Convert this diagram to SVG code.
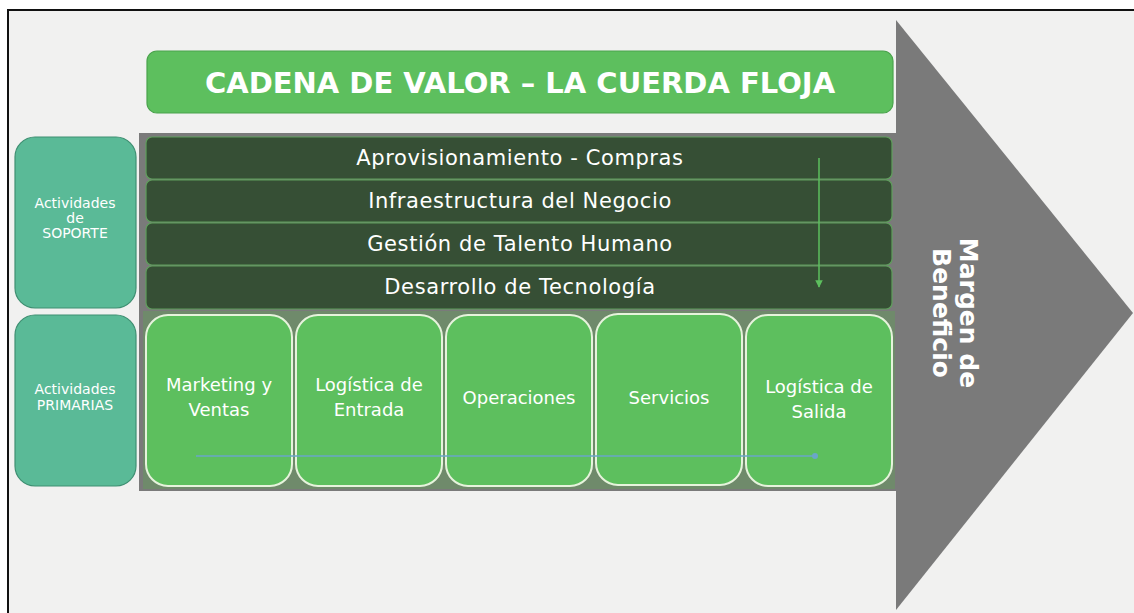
<svg xmlns="http://www.w3.org/2000/svg" width="1134" height="613" viewBox="0 0 1134 613">
<style>
.sup{fill:#364f35;stroke:#5f9e5c;stroke-width:1.2}
.pri{fill:#5dbf5e;stroke:#e6f3dc;stroke-width:2}
.side{fill:#5aba97;stroke:#3f8f72;stroke-width:1.2}
.t{font-family:"DejaVu Sans",Verdana,sans-serif;fill:#ffffff;text-anchor:middle}
.bar{font-size:21px;letter-spacing:0.6px}
.p{font-size:18px}
.s{font-size:14px}
</style>
<defs>
<marker id="ah" viewBox="0 0 10 10" refX="9" refY="5" markerWidth="5" markerHeight="5" orient="auto"><path d="M0,0 L10,5 L0,10 z" fill="#5dbf5e"/></marker>
<marker id="dot" viewBox="0 0 10 10" refX="5" refY="5" markerWidth="4" markerHeight="4"><circle cx="5" cy="5" r="5" fill="#6aa6c8"/></marker>
</defs>
<rect x="0" y="0" width="1134" height="613" fill="#ffffff"/>
<rect x="8" y="10" width="1130" height="610" fill="#f1f1f0" stroke="#111" stroke-width="2"/>
<polygon points="896,20 1133,313 896,610" fill="#7a7a7a"/>
<rect x="139" y="133" width="757" height="358" fill="#7a7a7a"/>
<rect x="143" y="311" width="752" height="178" fill="#6f8a6b"/>
<g id="title"><rect x="147" y="51" width="746" height="62" rx="10" fill="#5dbf5e" stroke="#4aa34c" stroke-width="1.2"/><text class="t" x="520" y="93" font-size="29" font-weight="bold">CADENA DE VALOR – LA CUERDA FLOJA</text></g>
<g id="soporte"><rect class="side" x="15" y="137" width="121" height="171" rx="20"/><text class="t s" x="75" y="208">Actividades</text><text class="t s" x="75" y="223">de</text><text class="t s" x="75" y="238">SOPORTE</text></g>
<g id="primarias"><rect class="side" x="15" y="315" width="121" height="171" rx="20"/><text class="t s" x="75" y="394">Actividades</text><text class="t s" x="75" y="410">PRIMARIAS</text></g>
<g id="aprov"><rect class="sup" x="146" y="137" width="746" height="42" rx="6"/><text class="t bar" x="520" y="165">Aprovisionamiento - Compras</text></g>
<g id="infra"><rect class="sup" x="146" y="180" width="746" height="42" rx="6"/><text class="t bar" x="520" y="208">Infraestructura del Negocio</text></g>
<g id="talento"><rect class="sup" x="146" y="223" width="746" height="42" rx="6"/><text class="t bar" x="520" y="251">Gestión de Talento Humano</text></g>
<g id="tecno"><rect class="sup" x="146" y="266" width="746" height="43" rx="6"/><text class="t bar" x="520" y="294">Desarrollo de Tecnología</text></g>
<g id="marketing"><rect class="pri" x="146" y="315" width="146" height="171" rx="22"/><text class="t p" x="219" y="391">Marketing y</text><text class="t p" x="219" y="416">Ventas</text></g>
<g id="entrada"><rect class="pri" x="296" y="315" width="146" height="171" rx="22"/><text class="t p" x="369" y="391">Logística de</text><text class="t p" x="369" y="416">Entrada</text></g>
<g id="operaciones"><rect class="pri" x="446" y="315" width="146" height="171" rx="22"/><text class="t p" x="519" y="404">Operaciones</text></g>
<g id="servicios"><rect class="pri" x="596" y="314" width="146" height="171" rx="22"/><text class="t p" x="669" y="404">Servicios</text></g>
<g id="salida"><rect class="pri" x="746" y="315" width="146" height="171" rx="22"/><text class="t p" x="819" y="393">Logística de</text><text class="t p" x="819" y="418">Salida</text></g>
<g id="connectors">
<line x1="819" y1="158" x2="819" y2="287" stroke="#5dbf5e" stroke-width="1.5" marker-end="url(#ah)"/>
<line x1="196" y1="456" x2="815" y2="456" stroke="#6aa6c8" stroke-width="1.5" marker-end="url(#dot)"/>
</g>
<g id="margen"><text class="t" font-size="25" font-weight="bold" transform="translate(957,313) rotate(90)"><tspan x="0" y="-3">Margen de</tspan><tspan x="0" y="24">Beneficio</tspan></text></g>
</svg>
